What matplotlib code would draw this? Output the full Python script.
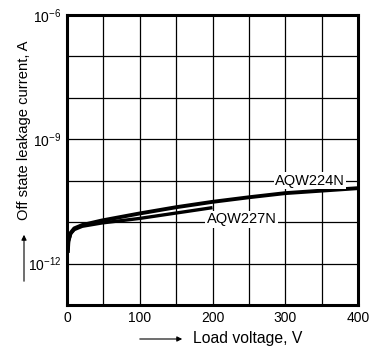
import matplotlib
matplotlib.use("Agg")
import matplotlib.pyplot as plt
import numpy as np

plt.rcParams['font.family'] = ['Liberation Sans', 'DejaVu Sans']
plt.rcParams['mathtext.fontset'] = 'custom'
plt.rcParams['mathtext.rm'] = 'Liberation Sans'
plt.rcParams['mathtext.it'] = 'Liberation Sans'

# Data
v_224 = [1, 2, 5, 10, 21, 48, 100, 150, 200, 250, 300, 350, 400]
i_224 = [10**-11.74, 10**-11.45, 10**-11.26, 10**-11.15, 10**-11.07, 10**-10.96, 10**-10.79,
         10**-10.64, 10**-10.51, 10**-10.40, 10**-10.30, 10**-10.24, 10**-10.18]
v_227 = [1, 2, 5, 10, 21, 48, 100, 150, 200]
i_227 = [10**-11.74, 10**-11.47, 10**-11.28, 10**-11.18, 10**-11.10, 10**-11.02, 10**-10.91,
         10**-10.78, 10**-10.65]

x_ticks = [0, 100, 200, 300, 400]
x_grid = [0, 50, 100, 150, 200, 250, 300, 350, 400]
y_ticks = [1e-12, 1e-9, 1e-6]
y_tick_labels = ['$10^{-12}$', '$10^{-9}$', '$10^{-6}$']
y_grid = [1e-13, 1e-12, 1e-11, 1e-10, 1e-9, 1e-8, 1e-7, 1e-6]

fig = plt.figure(figsize=(3.86, 3.49), dpi=100)
ax = fig.add_axes([67/386, 1-305/349, (358-67)/386, (305-15)/349])
ax.set_yscale('log')
ax.set_xlim(0, 400)
ax.set_ylim(1e-13, 1e-6)

for g in x_grid:
    ax.axvline(g, color='black', lw=0.9, zorder=1)
for g in y_grid:
    ax.axhline(g, color='black', lw=0.9, zorder=1)

ax.plot(v_224, i_224, color='black', lw=2.8, zorder=3, solid_capstyle='butt')
ax.plot(v_227, i_227, color='black', lw=2.4, zorder=3, solid_capstyle='butt')

ax.text(334, 1e-10, 'AQW224N', ha='center', va='center', fontsize=10.5, zorder=4,
        bbox=dict(facecolor='white', edgecolor='none', pad=1))
ax.text(240, 10**-10.93, 'AQW227N', ha='center', va='center', fontsize=10.5, zorder=4,
        bbox=dict(facecolor='white', edgecolor='none', pad=1))

ax.set_xticks(x_ticks)
ax.set_xticklabels([str(t) for t in x_ticks], fontsize=10)
ax.set_yticks(y_ticks)
ax.set_yticklabels(y_tick_labels, fontsize=10)
ax.yaxis.set_minor_locator(matplotlib.ticker.NullLocator())
ax.tick_params(length=0, pad=4)
for s in ax.spines.values():
    s.set_linewidth(2.2)
    s.set_zorder(5)

# axis labels with arrows
fig.text(193/386, 1-339/349, 'Load voltage, V', ha='left', va='center', fontsize=11.3)
fig.add_artist(matplotlib.patches.FancyArrowPatch((137/386, 1-339/349), (185/386, 1-339/349),
               transform=fig.transFigure, arrowstyle='-|>,head_length=3,head_width=1.5',
               lw=0.8, color='black'))
fig.text(24/386, 1-130/349, 'Off state leakage current, A', ha='center', va='center',
         rotation=90, fontsize=10.6)
fig.add_artist(matplotlib.patches.FancyArrowPatch((24/386, 1-284/349), (24/386, 1-232/349),
               transform=fig.transFigure, arrowstyle='-|>,head_length=3,head_width=1.5',
               lw=0.8, color='black'))

fig.savefig('out.png', dpi=100)
